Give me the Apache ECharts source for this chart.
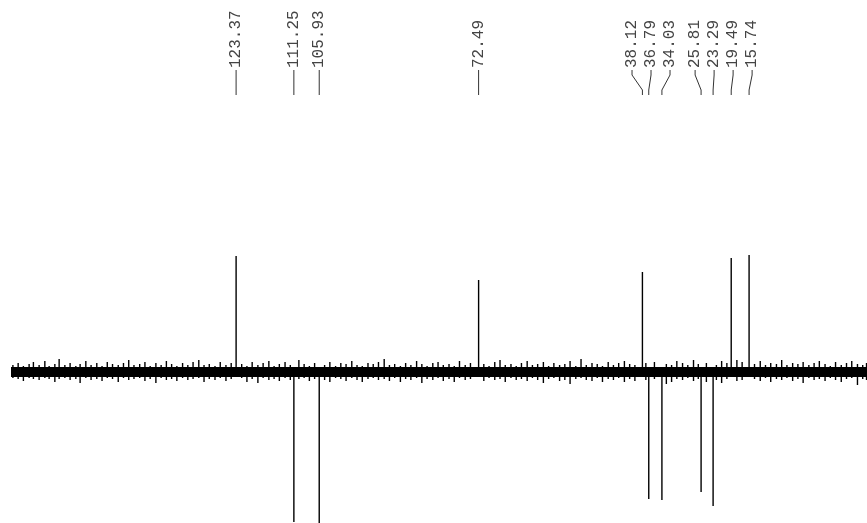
<!DOCTYPE html>
<html><head><meta charset="utf-8">
<script src="https://cdn.jsdelivr.net/npm/echarts@6/dist/echarts.min.js"></script>
<style>html,body{margin:0;padding:0;background:#fff}#c{width:867px;height:523px}</style>
</head><body><div id="c"></div>
<script>
// chemical shifts (ppm) and labels
const peakShifts = [123.37, 111.25, 105.93, 72.49, 38.12, 36.79, 34.03, 25.81, 23.29, 19.49, 15.74];
const peakLabels = ['123.37', '111.25', '105.93', '72.49', '38.12', '36.79', '34.03', '25.81', '23.29', '19.49', '15.74'];
// DEPT intensities (arbitrary units, + up / - down)
const peakIntensity = [116, -150, -153, 92, 100, -127, -128, -120, -134, 114, 117];
// baseline noise spikes: [ppm, up, down]
const noiseSpikes = [
  [170.2, 7, -6], [169.1, 9, -7], [168.0, 6, -9], [166.8, 8, -6], [165.9, 10, -7], [164.7, 7, -8],
  [163.5, 11, -6], [162.6, 6, -7], [161.4, 8, -10], [160.5, 13, -7], [159.3, 7, -6], [158.2, 9, -8],
  [157.0, 6, -7], [156.1, 8, -11], [154.9, 11, -6], [153.8, 7, -8], [152.6, 9, -7], [151.5, 6, -9],
  [150.4, 10, -6], [149.3, 8, -7], [148.1, 7, -10], [147.0, 9, -6], [145.9, 12, -8], [144.8, 7, -7],
  [143.6, 8, -6], [142.5, 10, -9], [141.4, 6, -7], [140.2, 9, -11], [139.1, 7, -6], [138.0, 11, -8],
  [136.9, 8, -7], [135.8, 6, -9], [134.6, 9, -6], [133.5, 7, -8], [132.4, 10, -7], [131.2, 12, -6],
  [130.1, 7, -10], [129.0, 8, -7], [127.8, 6, -8], [126.7, 10, -6], [125.5, 7, -9], [124.4, 9, -7],
  [122.2, 8, -6], [121.1, 6, -10], [120.0, 10, -7], [118.8, 7, -11], [117.7, 9, -6], [116.5, 11, -8],
  [115.4, 6, -7], [114.3, 8, -9], [113.1, 10, -6], [112.0, 7, -8], [110.2, 12, -7], [109.1, 8, -6],
  [108.0, 6, -9], [106.9, 9, -7], [104.8, 7, -8], [103.7, 10, -10], [102.5, 6, -6], [101.4, 9, -7],
  [100.3, 8, -9], [99.1, 11, -6], [98.0, 7, -8], [96.9, 6, -10], [95.7, 9, -7], [94.6, 8, -6],
  [93.5, 10, -8], [92.3, 13, -7], [91.2, 7, -9], [90.1, 8, -6], [88.9, 6, -10], [87.8, 9, -7],
  [86.7, 7, -8], [85.5, 11, -6], [84.4, 8, -11], [83.3, 6, -7], [82.1, 9, -8], [81.0, 10, -6],
  [79.9, 7, -9], [78.7, 8, -7], [77.6, 6, -10], [76.5, 11, -6], [75.3, 7, -8], [74.2, 9, -7],
  [71.4, 8, -9], [70.3, 6, -6], [69.1, 10, -8], [68.0, 12, -7], [66.9, 7, -10], [65.7, 8, -6],
  [64.6, 6, -8], [63.5, 9, -7], [62.3, 11, -9], [61.2, 7, -6], [60.1, 8, -8], [58.9, 10, -11],
  [57.8, 6, -7], [56.7, 9, -6], [55.5, 7, -9], [54.4, 8, -8], [53.3, 11, -12], [52.1, 6, -7],
  [51.0, 13, -6], [49.9, 7, -8], [48.7, 9, -9], [47.6, 8, -6], [46.5, 6, -10], [45.3, 10, -7],
  [44.2, 7, -8], [43.1, 9, -6], [41.9, 11, -10], [40.8, 8, -7], [39.7, 7, -9], [37.4, 9, -8],
  [35.6, 10, -7], [33.1, 8, -12], [32.0, 7, -10], [30.9, 11, -7], [29.7, 9, -8], [28.6, 7, -6],
  [27.4, 12, -9], [26.4, 8, -7], [24.7, 9, -10], [22.6, 7, -8], [21.5, 11, -11], [20.4, 9, -7],
  [18.3, 12, -9], [17.2, 10, -8], [14.6, 8, -7], [13.4, 11, -9], [12.3, 7, -6], [11.2, 9, -10],
  [10.0, 8, -7], [8.9, 12, -8], [7.8, 7, -6], [6.6, 9, -9], [5.5, 8, -7], [4.4, 10, -11],
  [3.2, 7, -6], [2.1, 9, -8], [1.0, 11, -7], [-0.2, 8, -9], [-1.3, 6, -6], [-2.4, 10, -8],
  [-3.6, 7, -10], [-4.7, 9, -7], [-5.8, 11, -6], [-7.0, 8, -13], [-8.1, 7, -7], [-8.9, 9, -8]
];
const ppmRange = [-9, 170.6];
const intensityRange = [-151, 372];

const chart = echarts.init(document.getElementById('c'), null, {renderer: 'canvas'});

function labelPositions(api) {
  const xs = peakShifts.map((s, i) => ({i: i, x: api.coord([s, 0])[0]}));
  xs.sort((a, b) => a.x - b.x);
  const gap = 19;
  let groups = xs.map(p => ({items: [p]}));
  const layout = g => {
    const c = g.items.reduce((s, p) => s + p.x, 0) / g.items.length;
    const n = g.items.length;
    return g.items.map((p, k) => c - (n - 1) / 2 * gap + k * gap);
  };
  let merged = true;
  while (merged) {
    merged = false;
    for (let k = 0; k < groups.length - 1; k++) {
      const a = layout(groups[k]), b = layout(groups[k + 1]);
      if (a[a.length - 1] + gap > b[0]) {
        groups[k] = {items: groups[k].items.concat(groups[k + 1].items)};
        groups.splice(k + 1, 1);
        merged = true;
        break;
      }
    }
  }
  const res = {};
  groups.forEach(g => {
    const l = layout(g);
    g.items.forEach((p, k) => { res[p.i] = {lx: l[k], px: p.x, single: g.items.length === 1}; });
  });
  return res;
}

const option = {
  animation: false,
  backgroundColor: '#fff',
  grid: {left: 11, right: 0, top: 0, bottom: 0},
  xAxis: {type: 'value', inverse: true, min: ppmRange[0], max: ppmRange[1], show: false},
  yAxis: {type: 'value', min: intensityRange[0], max: intensityRange[1], show: false},
  series: [
    {
      type: 'line',
      data: [[ppmRange[1], 0], [ppmRange[0], 0]],
      symbol: 'none',
      lineStyle: {color: '#000', width: 10},
      silent: true
    },
    {
      type: 'custom',
      data: noiseSpikes,
      renderItem: (params, api) => {
        const a = api.coord([api.value(0), api.value(1)]);
        const b = api.coord([api.value(0), api.value(2)]);
        return {type: 'line', shape: {x1: a[0], y1: a[1], x2: b[0], y2: b[1]},
          style: {stroke: '#000', lineWidth: 1.4}};
      },
      silent: true
    },
    {
      type: 'custom',
      data: peakShifts.map((s, i) => [s, peakIntensity[i]]),
      renderItem: (params, api) => {
        const a = api.coord([api.value(0), 0]);
        const b = api.coord([api.value(0), api.value(1)]);
        return {type: 'line', shape: {x1: a[0], y1: a[1], x2: b[0], y2: b[1]},
          style: {stroke: '#000', lineWidth: 1.4}};
      },
      silent: true
    },
    {
      type: 'custom',
      data: peakShifts.map((s, i) => [s, i]),
      renderItem: (params, api) => {
        const i = params.dataIndex;
        const pos = labelPositions(api)[i];
        const lx = pos.lx, px = pos.px;
        const pts = pos.single
          ? [[lx, 70], [lx, 95]]
          : [[lx, 70], [lx, 75], [px, 90], [px, 95]];
        return {
          type: 'group',
          children: [
            {type: 'text', x: lx, y: 68, rotation: Math.PI / 2,
              style: {text: peakLabels[i], font: '16px "Liberation Mono"', fill: '#444',
                align: 'left', verticalAlign: 'middle'}},
            {type: 'polyline', shape: {points: pts}, style: {stroke: '#333', lineWidth: 1, fill: null}}
          ]
        };
      },
      silent: true
    }
  ]
};
chart.setOption(option);
</script>
</body></html>
